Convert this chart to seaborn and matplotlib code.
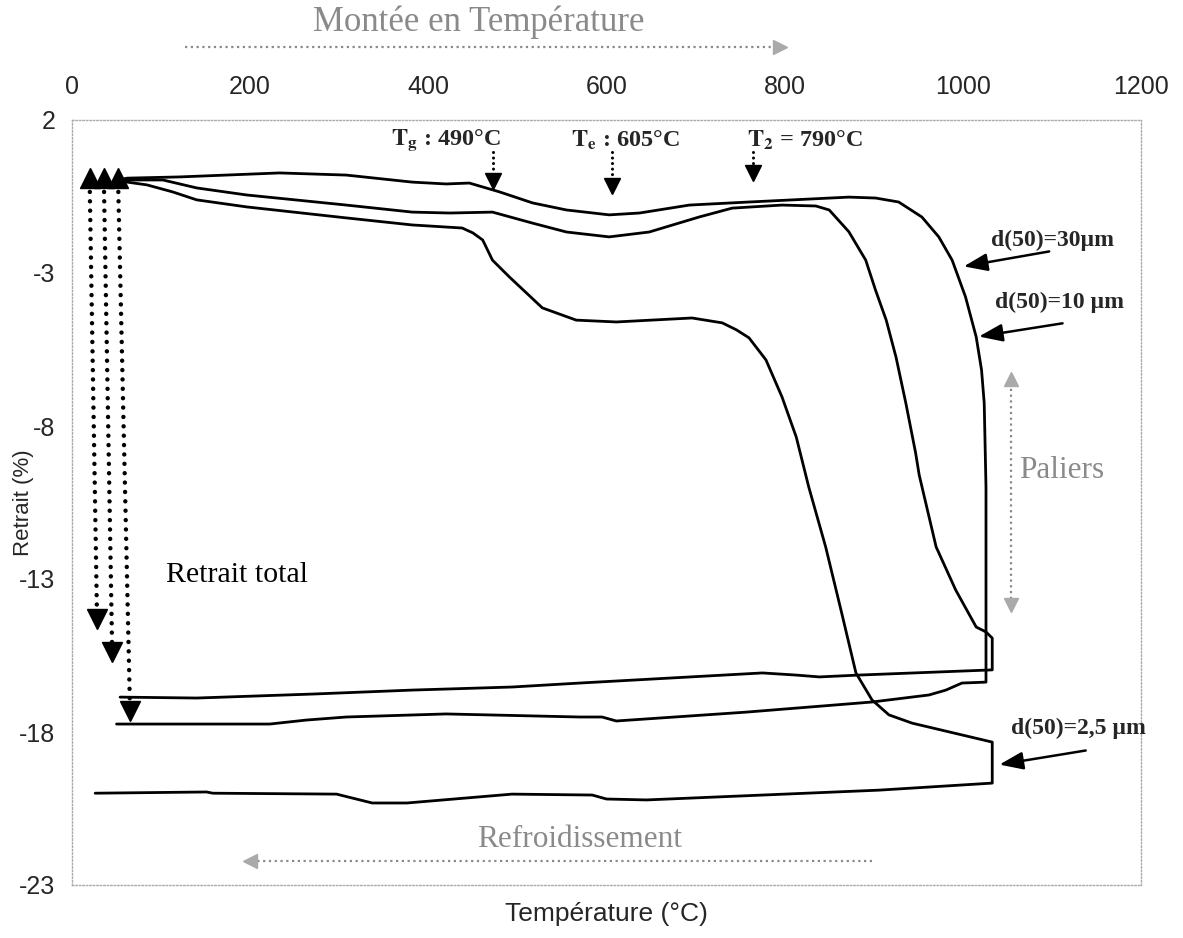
import numpy as np
import pandas as pd
import matplotlib
matplotlib.use("Agg")
import matplotlib.pyplot as plt
import seaborn as sns

# ---------------- data ----------------
# d(50)=30 µm : heating + isothermal plateau + cooling
T_30 = [52, 62, 121, 233, 308, 382, 420, 446, 480, 517, 555, 603, 637, 693, 760, 872,
        902, 928, 954, 973, 988, 1003, 1015, 1021, 1024, 1026, 1026,
        999, 981, 962, 898, 757, 611, 595, 570, 420, 308, 263, 222, 50]
R_30 = [0.04, 0.10, 0.14, 0.27, 0.20, -0.03, -0.09, -0.06, -0.35, -0.71, -0.94, -1.10,
        -1.04, -0.78, -0.68, -0.52, -0.55, -0.68, -1.17, -1.82, -2.58, -3.78, -5.09,
        -6.17, -7.25, -10.0, -16.37,
        -16.40, -16.63, -16.79, -17.02, -17.35, -17.64, -17.51, -17.51, -17.41, -17.51,
        -17.61, -17.74, -17.74]

# d(50)=10 µm
T_10 = [52, 62, 102, 140, 196, 308, 382, 424, 472, 517, 555, 603, 648, 704, 741, 797,
        835, 850, 872, 891, 902, 914, 925, 936, 947, 951, 970, 992, 1015, 1026, 1033, 1033,
        883, 839, 813, 775, 570, 494, 382, 270, 140, 54]
R_10 = [0.04, 0.04, 0.04, -0.22, -0.45, -0.78, -1.01, -1.04, -1.01, -1.37, -1.66, -1.82,
        -1.66, -1.17, -0.88, -0.78, -0.81, -0.94, -1.65, -2.58, -3.56, -4.54, -5.75,
        -7.25, -8.88, -9.6, -11.95, -13.36, -14.57, -14.73, -14.93, -15.97,
        -16.14, -16.20, -16.14, -16.07, -16.40, -16.53, -16.63, -16.76, -16.89, -16.86]

# d(50)=2,5 µm
T_25 = [52, 62, 84, 113, 140, 196, 308, 382, 438, 450, 461, 472, 491, 528, 566, 611,
        696, 730, 746, 760, 779, 797, 813, 827, 846, 864, 880, 898, 917, 943, 1033, 1033,
        906, 645, 600, 584, 494, 376, 337, 297, 158, 151, 26]
R_25 = [0.04, -0.03, -0.12, -0.35, -0.61, -0.84, -1.20, -1.43, -1.53, -1.69, -1.92,
        -2.58, -3.13, -4.14, -4.54, -4.60, -4.47, -4.63, -4.86, -5.12, -5.84, -7.05,
        -8.36, -9.99, -11.95, -14.11, -16.07, -16.95, -17.44, -17.71, -18.33, -19.67,
        -19.90, -20.22, -20.19, -20.06, -20.03, -20.32, -20.32, -20.03, -20.00, -19.96,
        -20.00]

x_ticks = [0, 200, 400, 600, 800, 1000, 1200]
y_ticks = [2, -3, -8, -13, -18, -23]

# starting points (triangles) and "retrait total" arrows
start_T = [20, 36, 52]
start_R = [0.1, 0.1, 0.1]
tot_T0 = [20, 36, 52]
tot_T1 = [28, 45, 65]
tot_R1 = [-14.67, -15.75, -17.67]

# characteristic temperatures
char_labels = [r"$\mathbf{T_g}$ : 490°C", r"$\mathbf{T_e}$ : 605°C", r"$\mathbf{T_2}$ = 790°C"]
char_text_T = [420, 621, 823]
char_arrow_T = [473, 606, 765]
char_arrow_R = [-0.29, -0.45, -0.03]

# ---------------- figure ----------------
sns.set_theme(style="white")
plt.rcParams["font.family"] = ["Liberation Sans", "DejaVu Sans"]
plt.rcParams["mathtext.fontset"] = "stix"
plt.rcParams["axes.unicode_minus"] = False

W, H = 1183, 938
fig = plt.figure(figsize=(W / 100, H / 100), dpi=100)
ax = fig.add_axes([72 / W, 1 - 885 / H, (1141 - 72) / W, (885 - 120) / H])

df = pd.concat([
    pd.DataFrame({"T": T_30, "R": R_30, "c": "30"}),
    pd.DataFrame({"T": T_10, "R": R_10, "c": "10"}),
    pd.DataFrame({"T": T_25, "R": R_25, "c": "2.5"}),
])
for name, sub in df.groupby("c", sort=False):
    sns.lineplot(data=sub, x="T", y="R", sort=False, estimator=None,
                 color="black", lw=2.0, ax=ax, legend=False)

ax.set_xlim(0, 1200)
ax.set_ylim(-23, 2)
ax.set_xticks(x_ticks)
ax.set_yticks(y_ticks)
ax.xaxis.tick_top()
ax.xaxis.set_label_position("bottom")
ax.tick_params(axis="x", labelsize=18, pad=15, length=0)
ax.tick_params(axis="y", labelsize=18, pad=9, length=3, color="#999999")
ax.set_xlabel("Température (°C)", fontsize=19, labelpad=12)
ax.set_ylabel("Retrait (%)", fontsize=16)
ax.yaxis.set_label_coords(-0.036, 0.5)
for s in ax.spines.values():
    s.set_linestyle((0, (1, 1.5)))
    s.set_color("#aaaaaa")
    s.set_linewidth(1.0)

# triangles + retrait total dotted arrows
ax.plot(start_T, start_R, linestyle="none", marker="^", ms=15, color="black", clip_on=False)
for t0, t1, r1 in zip(tot_T0, tot_T1, tot_R1):
    ax.plot([t0, t1], [-0.35, r1 + 0.55], color="black", lw=3.2,
            linestyle=(0, (0.01, 2.1)), dash_capstyle="round")
    ax.plot([t1], [r1 + 0.35], marker="v", ms=14, color="black", linestyle="none")

ax.text(105, -12.87, "Retrait total", family="Liberation Serif", fontsize=21.5,
        va="center", ha="left", color="black")

# characteristic temperatures
for lab, tt, ta, ra in zip(char_labels, char_text_T, char_arrow_T, char_arrow_R):
    ax.text(tt, 1.35, lab, family="Liberation Serif", fontsize=17.5, fontweight="bold",
            ha="center", va="center")
    ax.plot([ta, ta], [0.95, ra + 0.45], color="black", lw=2.2,
            linestyle=(0, (0.01, 1.8)), dash_capstyle="round")
    ax.plot([ta], [ra + 0.3], marker="v", ms=11, color="black", linestyle="none")

# size labels
bold = dict(family="Liberation Serif", fontsize=17, fontweight="bold", ha="center", va="center")
arr = dict(arrowstyle="-|>,head_length=1.2,head_width=0.45", color="black", lw=1.8)
ax.text(1101, -1.92, "d(50)=30µm", **bold)
ax.annotate("", xy=(998, -2.80), xytext=(1100, -2.28), arrowprops=arr)
ax.text(1108, -3.95, "d(50)=10 µm", **bold)
ax.annotate("", xy=(1015, -5.09), xytext=(1115, -4.63), arrowprops=arr)
ax.text(1130, -17.87, "d(50)=2,5 µm", **bold)
ax.annotate("", xy=(1038, -19.08), xytext=(1141, -18.59), arrowprops=arr,
            annotation_clip=False)

# grey annotations
grey = "#8a8a8a"
gtext = dict(family="Liberation Serif", color=grey, ha="center", va="center")
ax.text(457, 5.2, "Montée en Température", fontsize=25, clip_on=False, **gtext)
ax.plot([127, 790], [4.39, 4.39], color=grey, lw=1.6, linestyle=(0, (1, 1.6)), clip_on=False)
ax.plot([795], [4.39], marker=">", ms=10, color="#aaaaaa", clip_on=False, linestyle="none")

ax.text(570, -21.5, "Refroidissement", fontsize=22.5, **gtext)
ax.plot([898, 205], [-22.2, -22.2], color=grey, lw=1.6, linestyle=(0, (1, 1.6)))
ax.plot([200], [-22.2], marker="<", ms=10, color="#aaaaaa", linestyle="none")

ax.plot([1054, 1054], [-6.6, -13.7], color=grey, lw=1.6, linestyle=(0, (1, 1.6)))
ax.plot([1054], [-6.45], marker="^", ms=10, color="#aaaaaa", linestyle="none")
ax.plot([1054], [-13.85], marker="v", ms=10, color="#aaaaaa", linestyle="none")
ax.text(1063, -9.44, "Paliers", fontsize=22.5, family="Liberation Serif", color=grey,
        ha="left", va="center")

fig.savefig("out.png", dpi=100)
